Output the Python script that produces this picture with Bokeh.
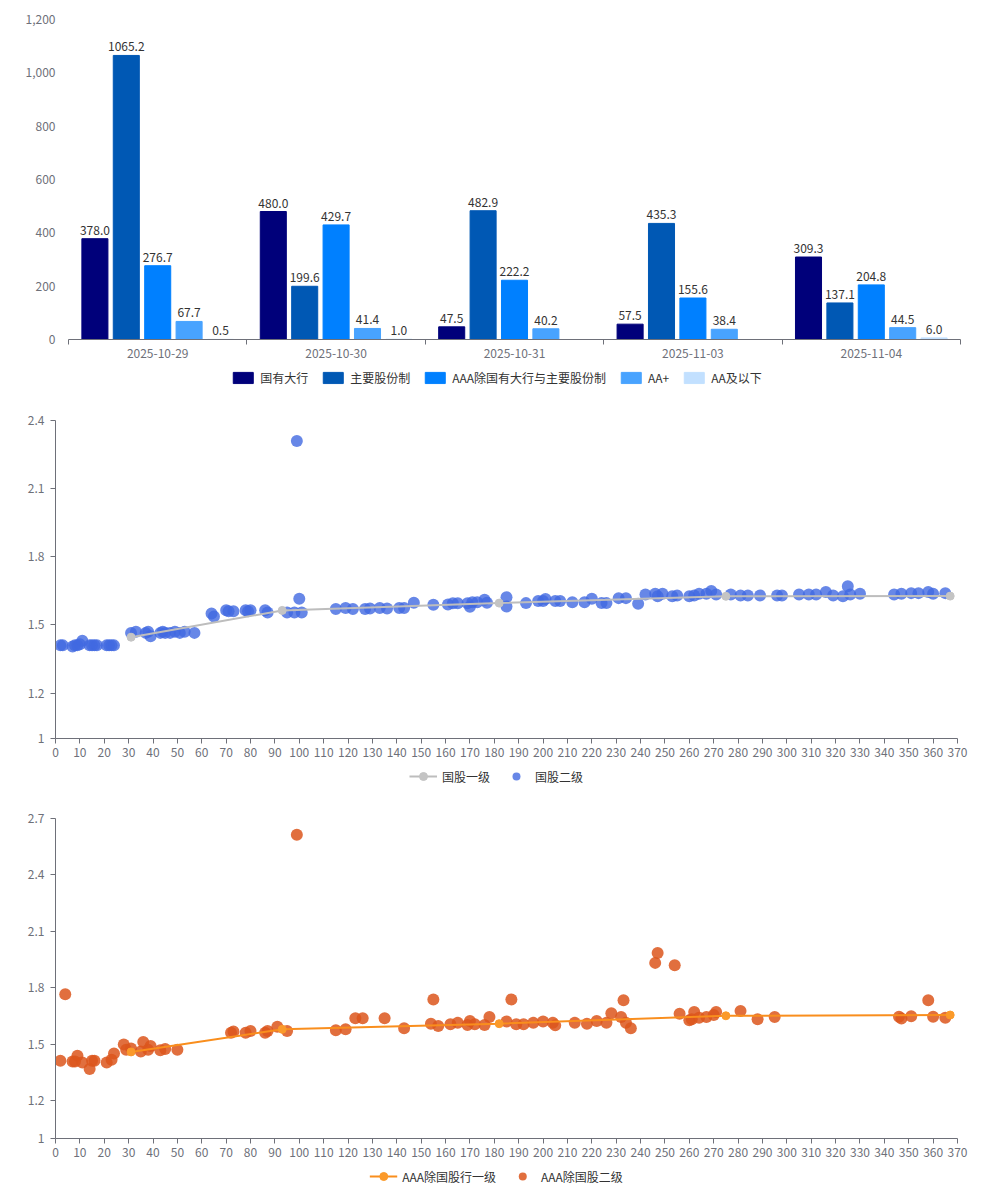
import numpy as np
from bokeh.plotting import figure
from bokeh.models import (Range1d, FixedTicker, NumeralTickFormatter, ColumnDataSource,
                          LabelSet, Legend, LegendItem)
from bokeh.core.properties import value
from bokeh.embed import file_html
from bokeh.resources import INLINE

FONT = "Noto Sans CJK SC"
AXIS_C = "#6e7079"

# ---------------- data: bar chart ----------------
dates = ["2025-10-29", "2025-10-30", "2025-10-31", "2025-11-03", "2025-11-04"]
series_names = ["国有大行", "主要股份制", "AAA除国有大行与主要股份制", "AA+", "AA及以下"]
v_state_big = [378.0, 480.0, 47.5, 57.5, 309.3]
v_joint_stock = [1065.2, 199.6, 482.9, 435.3, 137.1]
v_aaa_other = [276.7, 429.7, 222.2, 155.6, 204.8]
v_aa_plus = [67.7, 41.4, 40.2, 38.4, 44.5]
v_aa_below = [0.5, 1.0, None, None, 6.0]
bar_colors = ["#00007a", "#0058b4", "#0080ff", "#48a3ff", "#c2e0ff"]

# ---------------- data: 国股 scatter ----------------
gg1_x = [31, 93, 182, 275, 367]
gg1_y = [1.446, 1.564, 1.596, 1.626, 1.627]
gg2_x = [2, 3, 7, 8, 9, 10, 11, 14, 15, 16, 17, 21, 22, 23, 24,
         31, 33, 37, 38, 39, 43, 44, 45, 47, 49, 51, 53, 57,
         64, 65, 70, 71, 73, 78, 79, 80, 86, 87, 95, 98, 99, 100, 101,
         115, 119, 122, 127, 129, 133, 136, 141, 143, 147, 155,
         161, 163, 165, 169, 170, 171, 173, 176, 177, 185, 185, 193, 198,
         200, 201, 205, 207, 212, 217, 220, 224, 226, 231, 234, 239, 242,
         246, 247, 249, 253, 255, 260, 262, 264, 267, 269, 271, 277, 281, 284, 289, 296, 298,
         305, 309, 312, 316, 319, 323, 325, 326, 330, 344, 347, 351, 354, 358, 360, 365]
gg2_y = [1.41, 1.41, 1.405, 1.41, 1.41, 1.415, 1.43, 1.41, 1.41, 1.41, 1.41, 1.41, 1.41, 1.41, 1.41,
         1.465, 1.47, 1.465, 1.47, 1.45, 1.465, 1.47, 1.465, 1.465, 1.47, 1.465, 1.47, 1.465,
         1.55, 1.537, 1.565, 1.56, 1.56, 1.565, 1.56, 1.565, 1.565, 1.555, 1.555, 1.555, 2.31, 1.615, 1.555,
         1.57, 1.575, 1.57, 1.57, 1.572, 1.575, 1.572, 1.575, 1.575, 1.598, 1.589,
         1.59, 1.595, 1.595, 1.595, 1.58, 1.60, 1.60, 1.611, 1.598, 1.622, 1.581, 1.596, 1.605,
         1.605, 1.614, 1.605, 1.605, 1.60, 1.60, 1.615, 1.596, 1.596, 1.618, 1.618, 1.593, 1.634,
         1.637, 1.626, 1.637, 1.626, 1.63, 1.626, 1.63, 1.637, 1.637, 1.649, 1.634, 1.634, 1.63, 1.63, 1.63, 1.63, 1.63,
         1.634, 1.634, 1.634, 1.645, 1.63, 1.626, 1.67, 1.634, 1.637, 1.634, 1.637, 1.64, 1.64, 1.645, 1.637, 1.64]

# ---------------- data: AAA除国股 scatter ----------------
aaa1_x = [31, 93, 182, 275, 367]
aaa1_y = [1.46, 1.58, 1.61, 1.652, 1.656]
aaa2_x = [4, 2, 7, 9, 8, 11, 14, 15, 16, 21, 23, 24, 28, 29, 31, 35, 36, 38, 39, 43, 45, 50,
          72, 73, 78, 80, 86, 87, 91, 95, 99, 115, 119, 123, 126, 135, 143,
          154, 155, 157, 162, 165, 169, 170, 172, 176, 178, 185, 187, 189, 192, 196, 200, 204, 205,
          213, 218, 222, 226, 228, 232, 233, 234, 236, 246, 247, 254, 256, 260, 261, 262, 264, 267,
          270, 271, 281, 288, 295, 346, 347, 351, 358, 360, 365]
aaa2_y = [1.766, 1.413, 1.409, 1.439, 1.409, 1.404, 1.369, 1.413, 1.413, 1.404, 1.418, 1.451, 1.50, 1.471,
          1.478, 1.462, 1.513, 1.471, 1.492, 1.469, 1.475, 1.471,
          1.562, 1.568, 1.562, 1.571, 1.562, 1.571, 1.594, 1.571, 2.614, 1.575, 1.58, 1.639, 1.639, 1.639, 1.586,
          1.61, 1.739, 1.598, 1.607, 1.615, 1.603, 1.624, 1.607, 1.603, 1.646, 1.621, 1.739, 1.607, 1.607,
          1.615, 1.621, 1.615, 1.601,
          1.615, 1.61, 1.624, 1.615, 1.665, 1.646, 1.734, 1.615, 1.586, 1.933, 1.986, 1.921, 1.663, 1.628,
          1.633, 1.672, 1.642, 1.646,
          1.656, 1.672, 1.677, 1.633, 1.646, 1.647, 1.637, 1.649, 1.735, 1.647, 1.642]

W = 992


def style_axes_common(p):
    for ax in (p.xaxis[0], p.yaxis[0]):
        ax.major_label_text_font = FONT
        ax.major_label_text_font_size = "12px"
        ax.major_label_text_color = AXIS_C
        ax.axis_line_color = AXIS_C
        ax.major_tick_line_color = AXIS_C
        ax.major_tick_in = 0
        ax.major_tick_out = 5
        ax.minor_tick_line_color = None
    p.xgrid.grid_line_color = None
    p.ygrid.grid_line_color = None
    p.outline_line_color = None


def legend_fig(height=24):
    # a thin strip that only shows the legend; its data sit far outside its ranges
    lf = figure(width=W, height=height, min_border=0, x_range=Range1d(5000, 5001),
                y_range=Range1d(5000, 5001), output_backend="svg", toolbar_location=None)
    lf.axis.visible = False
    lf.xgrid.grid_line_color = None
    lf.ygrid.grid_line_color = None
    lf.outline_line_color = None
    return lf


def make_legend(items, glyph_w=25, glyph_h=14):
    leg = Legend(items=items, location="center", orientation="horizontal")
    leg.label_text_font = FONT
    leg.label_text_font_size = "12px"
    leg.label_text_color = "#333333"
    leg.border_line_color = None
    leg.background_fill_alpha = 0
    leg.glyph_width = glyph_w
    leg.glyph_height = glyph_h
    leg.label_standoff = 5
    leg.spacing = 12
    leg.padding = 2
    leg.margin = 0
    leg.label_height = 14
    return leg


# ================= Figure 1: bars =================
p1 = figure(width=W, height=365, min_border_left=68, min_border_right=32,
            min_border_top=19, min_border_bottom=26,
            x_range=Range1d(-0.5, 4.5), y_range=Range1d(0, 1200),
            output_backend="svg", toolbar_location=None)
style_axes_common(p1)

all_vals = [v_state_big, v_joint_stock, v_aaa_other, v_aa_plus, v_aa_below]
step = 0.176
bar_w = 0.146
l1 = legend_fig()
legend_items1 = []
for k, (name, vals, col) in enumerate(zip(series_names, all_vals, bar_colors)):
    idx = [i for i, v in enumerate(vals) if v is not None]
    xs = [i + (k - 2) * step for i in idx]
    ys = [vals[i] for i in idx]
    src = ColumnDataSource(dict(x=xs, top=ys, lab=[f"{v:.1f}" for v in ys]))
    p1.vbar(x="x", top="top", width=bar_w, source=src, fill_color=col, line_color=col)
    p1.add_layout(LabelSet(x="x", y="top", text="lab", source=src, text_align="center",
                           text_baseline="bottom", y_offset=4, text_font_size=value("12px"),
                           text_font=value(FONT), text_color=value("#333333")))
    # same series in the legend strip (outside its visible range) to key the legend
    rk = l1.vbar(x="x", top="top", width=bar_w, source=src, fill_color=col, line_color=col)
    legend_items1.append(LegendItem(label=name, renderers=[rk]))

p1.xaxis.ticker = FixedTicker(ticks=list(range(len(dates))),
                              minor_ticks=[i - 0.5 for i in range(len(dates) + 1)])
p1.xaxis.major_label_overrides = {i: d for i, d in enumerate(dates)}
p1.xaxis.major_tick_line_color = None
p1.xaxis.minor_tick_line_color = AXIS_C
p1.xaxis.minor_tick_in = 0
p1.xaxis.minor_tick_out = 5
p1.xaxis.major_label_standoff = 4

p1.yaxis.ticker = FixedTicker(ticks=[0, 200, 400, 600, 800, 1000, 1200])
p1.yaxis.formatter = NumeralTickFormatter(format="0,0")
p1.yaxis.axis_line_color = None
p1.yaxis.major_tick_line_color = None
p1.yaxis.major_label_standoff = 8

l1.add_layout(make_legend(legend_items1))


# ================= scatter figures =================
def scatter_fig(top_border, fheight, ymax, yticks,
                line_x, line_y, pts_x, pts_y, line_col, mark_col, pt_col, pt_alpha,
                name1, name2):
    p = figure(width=W, height=top_border + fheight + 26, min_border_left=55, min_border_right=35,
               min_border_top=top_border, min_border_bottom=26,
               x_range=Range1d(0, 370), y_range=Range1d(1, ymax),
               output_backend="svg", toolbar_location=None)
    style_axes_common(p)
    p.xaxis.ticker = FixedTicker(ticks=list(range(0, 371, 10)))
    p.yaxis.ticker = FixedTicker(ticks=yticks)
    p.yaxis.major_label_overrides = {t: (f"{t:g}") for t in yticks}
    p.xaxis.major_label_standoff = 4
    p.yaxis.major_label_standoff = 6

    p.scatter(pts_x, pts_y, size=12, marker="circle", fill_color=pt_col,
              fill_alpha=pt_alpha, line_color=None)
    p.line(line_x, line_y, line_color=line_col, line_width=2)
    p.scatter(line_x, line_y, size=8, marker="circle", fill_color=mark_col,
              line_color=mark_col)

    lf = legend_fig()
    k_ln = lf.line(line_x, line_y, line_color=line_col, line_width=2)
    k_mk = lf.scatter(line_x, line_y, size=9, marker="circle", fill_color=mark_col,
                      line_color=mark_col)
    k_sc = lf.scatter(pts_x, pts_y, size=16, marker="circle", fill_color=pt_col,
                      fill_alpha=pt_alpha, line_color=None)
    lf.add_layout(make_legend([LegendItem(label=name1, renderers=[k_ln, k_mk]),
                               LegendItem(label=name2, renderers=[k_sc])],
                              glyph_w=28, glyph_h=20))
    return p, lf


p2, l2 = scatter_fig(31, 318, 2.4, [1, 1.2, 1.5, 1.8, 2.1, 2.4],
                     gg1_x, gg1_y, gg2_x, gg2_y, "#bdbdbd", "#c4c4c4", "#4169e1", 0.8,
                     "国股一级", "国股二级")
p3, l3 = scatter_fig(30, 320, 2.7, [1, 1.2, 1.5, 1.8, 2.1, 2.4, 2.7],
                     aaa1_x, aaa1_y, aaa2_x, aaa2_y, "#f98e1d", "#fb9a2a", "#dc561c", 0.85,
                     "AAA除国股行一级", "AAA除国股二级")

roots = [p1, l1, p2, l2, p3, l3]
open("out.html", "w").write(file_html(roots, INLINE))
